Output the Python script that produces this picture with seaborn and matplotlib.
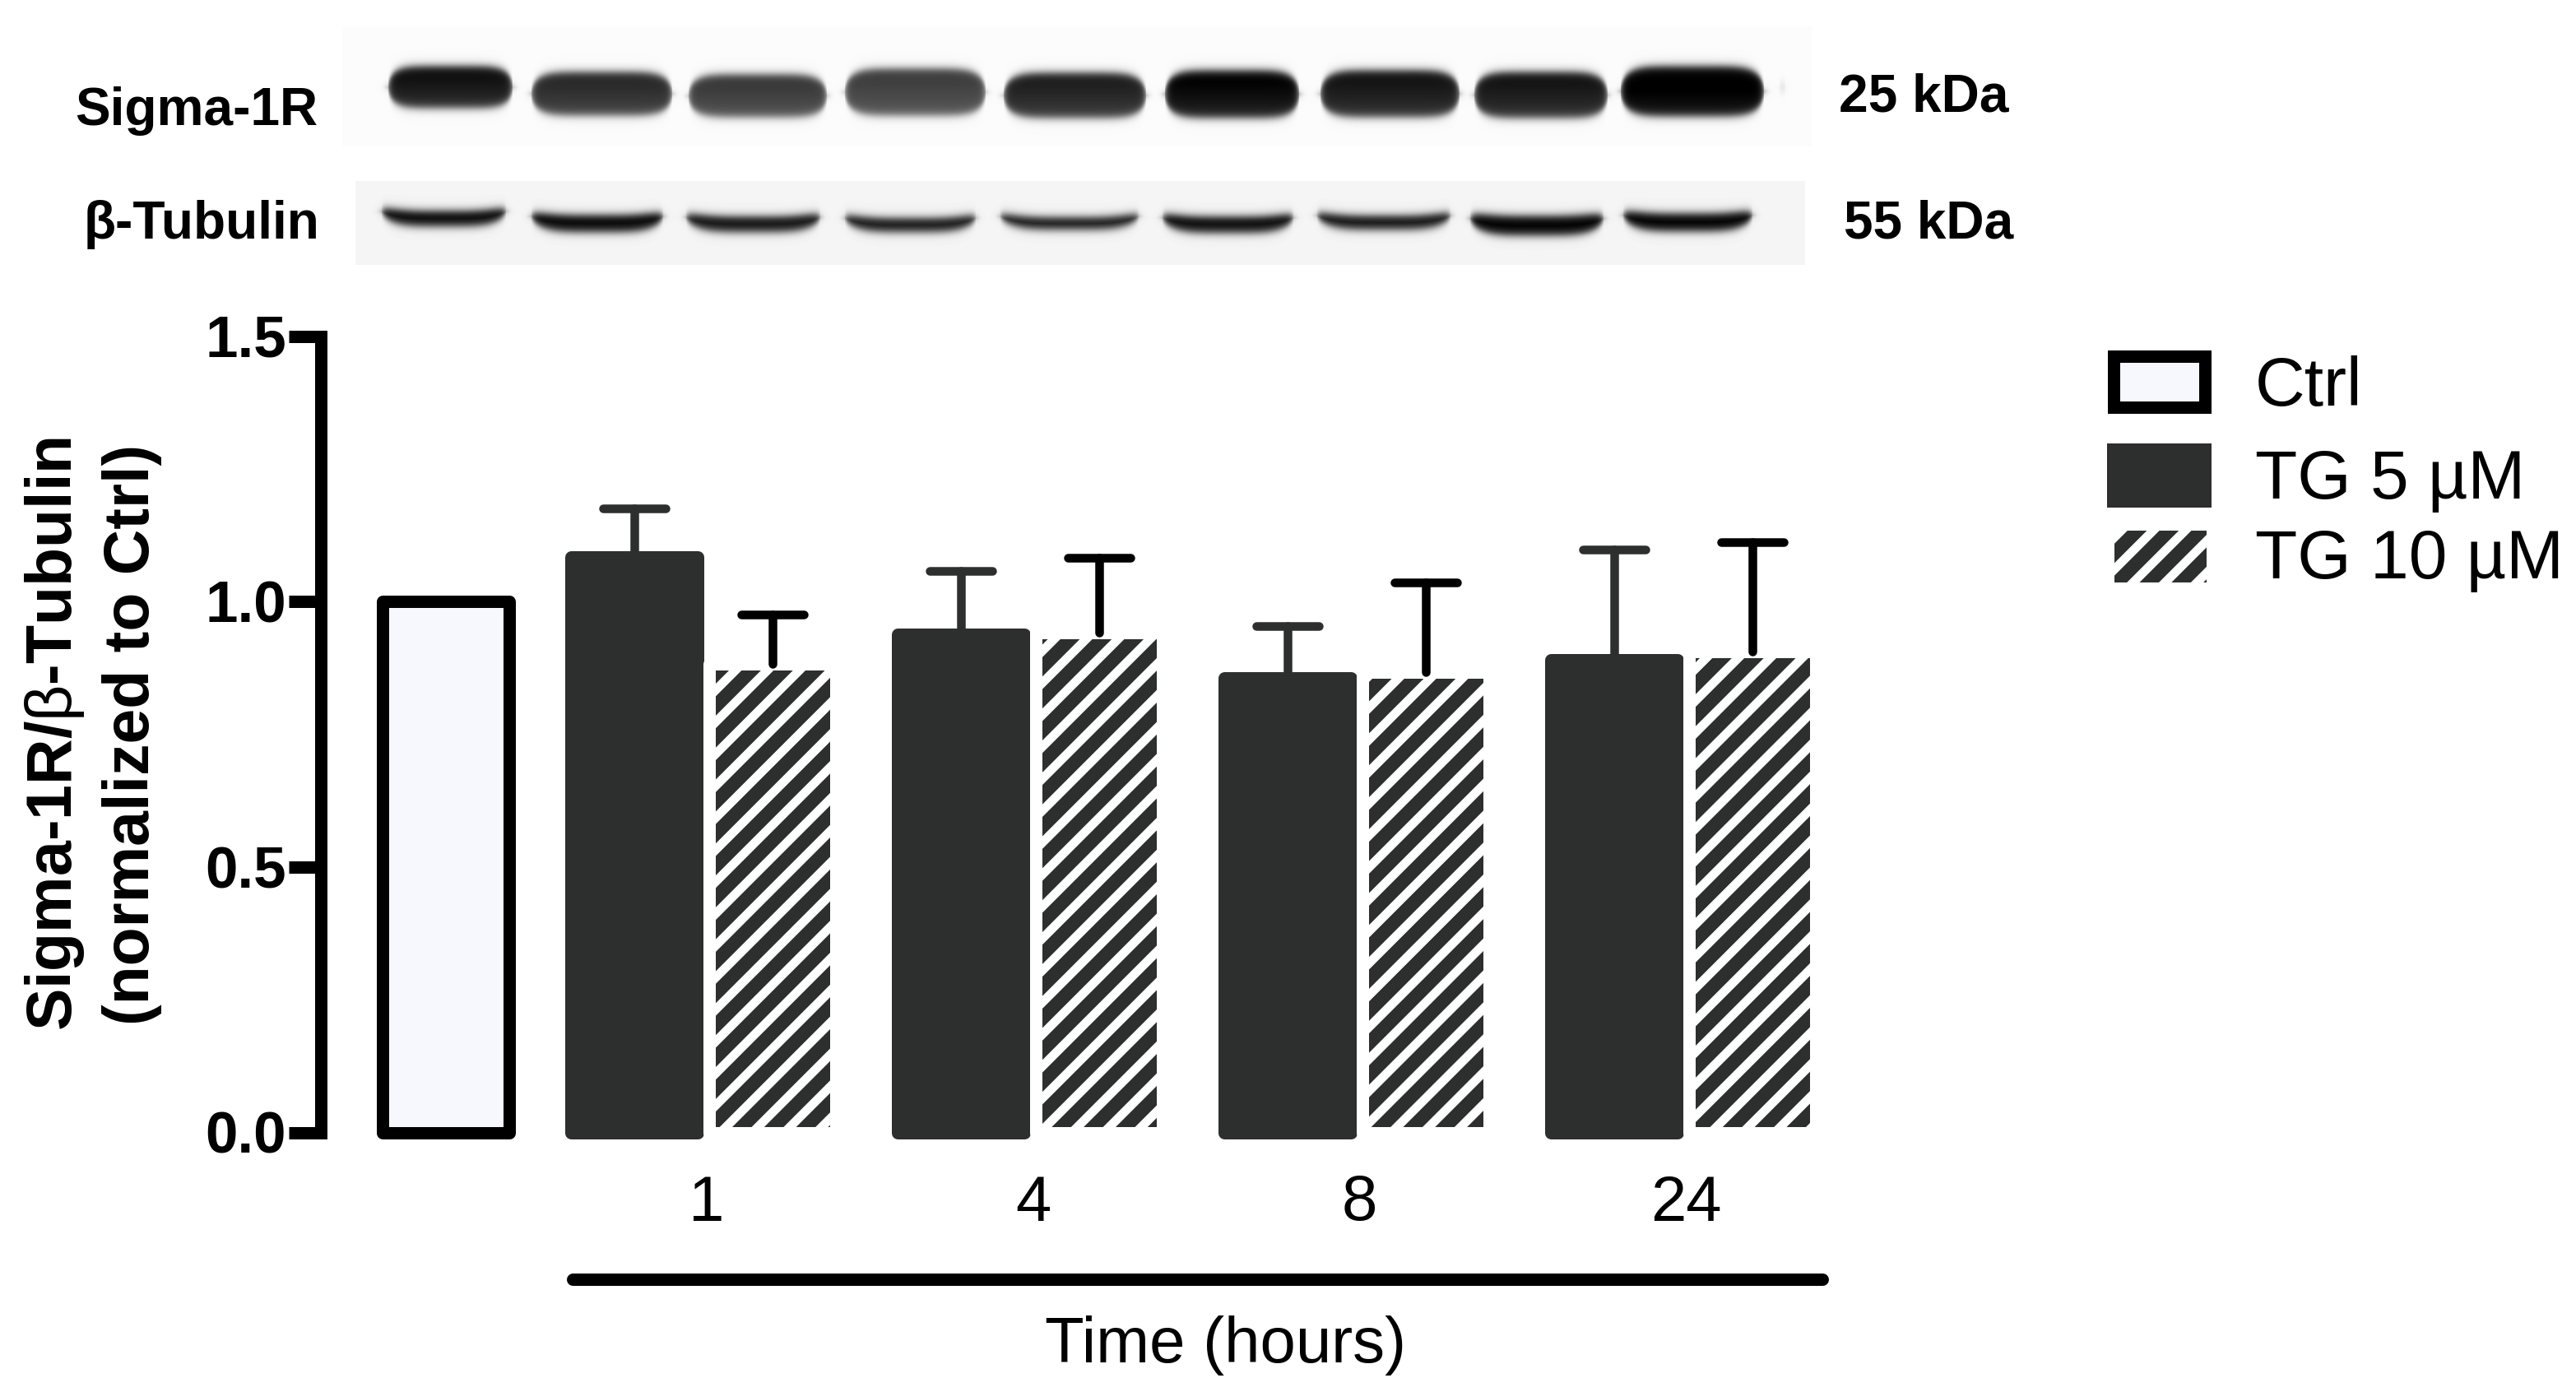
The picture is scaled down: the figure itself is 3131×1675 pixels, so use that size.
import numpy as np
import pandas as pd
import matplotlib
matplotlib.use('Agg')
import matplotlib.pyplot as plt
from matplotlib.markers import MarkerStyle
from matplotlib.patches import Rectangle
import seaborn as sns

# dados
time_labels = ['1', '4', '8', '24']
ctrl_value = [1.0]
tg5_values = [1.084, 0.938, 0.856, 0.891]
tg10_values = [0.882, 0.942, 0.867, 0.905]
tg5_upper = [1.176, 1.057, 0.953, 1.098]
tg10_upper = [0.975, 1.083, 1.036, 1.112]
y_ticks = [0.0, 0.5, 1.0, 1.5]
legend_labels = ['Ctrl', 'TG 5 µM', 'TG 10 µM']

# blot: faixas (pixels da imagem)
sigma_left = [471, 645, 836, 1026, 1219, 1415, 1604, 1791, 1969, 2162]
sigma_right = [623, 817, 1005, 1198, 1393, 1579, 1774, 1954, 2144, 2170]
sigma_top = [80, 87, 90, 83, 88, 85, 85, 87, 80, 100]
sigma_bottom = [131, 140, 142, 140, 143, 143, 142, 143, 141, 112]
sigma_dark = [0.90, 0.80, 0.74, 0.72, 0.84, 0.95, 0.88, 0.88, 1.0, 0.10]
tubulin_left = [463, 645, 833, 1026, 1215, 1412, 1600, 1786, 1972]
tubulin_right = [615, 806, 997, 1186, 1384, 1572, 1763, 1949, 2130]
tubulin_top = [256, 261, 263, 265, 264, 263, 262, 262, 259]
tubulin_bottom = [275, 282, 282, 282, 279, 283, 279, 286, 281]
tubulin_dark = [0.96, 0.97, 0.92, 0.90, 0.90, 0.95, 0.92, 1.0, 1.0]

DARK = '#2d2f2e'
CTRL_FILL = '#f6f8fe'
W, H = 3131, 1675
DPI = 233


def pt(px):
    return px * 72 / DPI


def sig(v):
    return 1 / (1 + np.exp(-v))


def blot_image(x0, x1, y0, y1, bg, lefts, rights, tops, bottoms, darks, curve):
    xs, ys = np.meshgrid(np.arange(x0, x1), np.arange(y0, y1))
    img = np.full(xs.shape, bg, dtype=float)
    for l, r, t, b, d in zip(lefts, rights, tops, bottoms, darks):
        hw, hh = (r - l) / 2, (b - t) / 2
        u = np.clip((xs - (l + r) / 2) / hw, -1, 1)
        dy = ys + curve * u ** 4 - (t + b) / 2
        # faixa de pontas arredondadas com borda difusa
        hh_eff = hh * np.sqrt(1 - np.abs(u) ** 6)
        sx = sig((hw - np.abs(xs - (l + r) / 2)) / 2.5)
        sy = sig((hh_eff - np.abs(dy)) / 3)
        # mais escura em cima, mais clara embaixo
        shade = 1 - 0.10 * np.clip(dy / hh, -1, 1)
        img = img * (1 - np.clip(d * shade, 0, 1) * sx * sy)
    return img


sns.set_style('white')
plt.rcParams['font.family'] = ['Liberation Sans', 'DejaVu Sans']
plt.rcParams['mathtext.fontset'] = 'custom'
plt.rcParams['mathtext.rm'] = 'Liberation Sans'
plt.rcParams['hatch.linewidth'] = pt(10.8)
plt.rcParams['text.color'] = 'black'
plt.rcParams['axes.labelcolor'] = 'black'
plt.rcParams['xtick.color'] = 'black'
plt.rcParams['ytick.color'] = 'black'

fig = plt.figure(figsize=(W / DPI, H / DPI), dpi=DPI, facecolor='white')
ax = fig.add_axes([390 / W, 1 - 1376.5 / H, (2240 - 390) / W, 968 / H], facecolor='none')

# barras
groups = np.arange(1, 5)
df = pd.concat([
    pd.DataFrame({'pos': [0.424], 'value': ctrl_value, 'series': 'Ctrl'}),
    pd.DataFrame({'pos': groups, 'value': tg5_values, 'series': 'TG5'}),
    pd.DataFrame({'pos': groups + 0.423, 'value': tg10_values, 'series': 'TG10'}),
])
styles = {
    'Ctrl': dict(color=CTRL_FILL, edgecolor='black'),
    'TG5': dict(color=DARK, edgecolor=DARK),
    'TG10': dict(color=DARK, edgecolor='white', hatch='//'),
}
for name, style in styles.items():
    sns.barplot(data=df[df['series'] == name], x='pos', y='value', native_scale=True,
                width=0.388, saturation=1, errorbar=None, linewidth=pt(15),
                joinstyle='round', clip_on=False, ax=ax, **style)

# barras de erro, só para cima
for xs, vals, upper, col in [(groups, tg5_values, tg5_upper, DARK),
                             (groups + 0.423, tg10_values, tg10_upper, 'black')]:
    vals = np.array(vals)
    err = ax.errorbar(xs, vals, yerr=[np.zeros(4), np.array(upper) - vals], fmt='none',
                      ecolor=col, elinewidth=pt(10.5), capsize=pt(38), capthick=pt(10.5),
                      zorder=5, clip_on=False)
    err[2][0].set_capstyle('round')
    err[1][0].set_visible(False)
    err[1][1].set_marker(MarkerStyle('_', capstyle='round'))

ax.set_xlim(0.0403, 4.70)
ax.set_ylim(0, 1.5)
ax.set_yticks(y_ticks)
ax.set_yticklabels([f'{v:.1f}' for v in y_ticks], fontsize=pt(71), fontweight='bold')
ax.set_xticks(groups + 0.22)
ax.set_xticklabels(time_labels, fontsize=pt(78))
ax.tick_params(axis='y', left=True, length=pt(39), width=pt(15), color='black', pad=pt(3))
ax.tick_params(axis='x', bottom=False, length=0, pad=pt(50))
sns.despine(ax=ax, top=True, right=True, bottom=True)
ax.spines['left'].set_linewidth(pt(15))
ax.spines['left'].set_color('black')

ax.set_xlabel('Time (hours)', fontsize=pt(78), labelpad=pt(100))
ax.xaxis.label.set_x((1490 - 390) / 1850)
ax.set_ylabel('Sigma-1R/$\\mathrm{\\beta}$-Tubulin\n(normalized to Ctrl)', fontsize=pt(77),
              fontweight='bold', linespacing=1.33, labelpad=pt(52))

# camada em pixels: blots, legenda, linha do tempo
over = fig.add_axes([0, 0, 1, 1], facecolor='none')
over.set_axis_off()

img1 = blot_image(416, 2203, 32, 178, 0.985, sigma_left, sigma_right, sigma_top,
                  sigma_bottom, sigma_dark, 0)
img2 = blot_image(432, 2194, 220, 322, 0.96, tubulin_left, tubulin_right, tubulin_top,
                  tubulin_bottom, tubulin_dark, 9)
over.imshow(img1, cmap='gray', vmin=0, vmax=1, extent=(416, 2203, 178, 32), aspect='auto')
over.imshow(img2, cmap='gray', vmin=0, vmax=1, extent=(432, 2194, 322, 220), aspect='auto')

over.set_xlim(0, W)
over.set_ylim(H, 0)

for txt, x, y in [('Sigma-1R', 91, 152), ('β-Tubulin', 102, 290),
                  ('25 kDa', 2235, 135), ('55 kDa', 2241, 290)]:
    over.text(x, y, txt, fontsize=pt(64), fontweight='bold', va='baseline', ha='left')

over.plot([696, 2215], [1554.5, 1554.5], color='black', lw=pt(15), solid_capstyle='round')

over.add_patch(Rectangle((2569, 433), 111, 62, facecolor=CTRL_FILL, edgecolor='black', lw=pt(15)))
over.add_patch(Rectangle((2561, 539), 127, 78, facecolor=DARK, edgecolor='none'))
over.add_patch(Rectangle((2561.5, 636.5), 127, 78, facecolor=DARK, edgecolor='white', hatch='//', lw=pt(15)))
for lab, y in zip(legend_labels, [493, 606, 703]):
    over.text(2741, y, lab, fontsize=pt(84), va='baseline', ha='left')

fig.savefig('out.png', dpi=DPI, facecolor='white')
